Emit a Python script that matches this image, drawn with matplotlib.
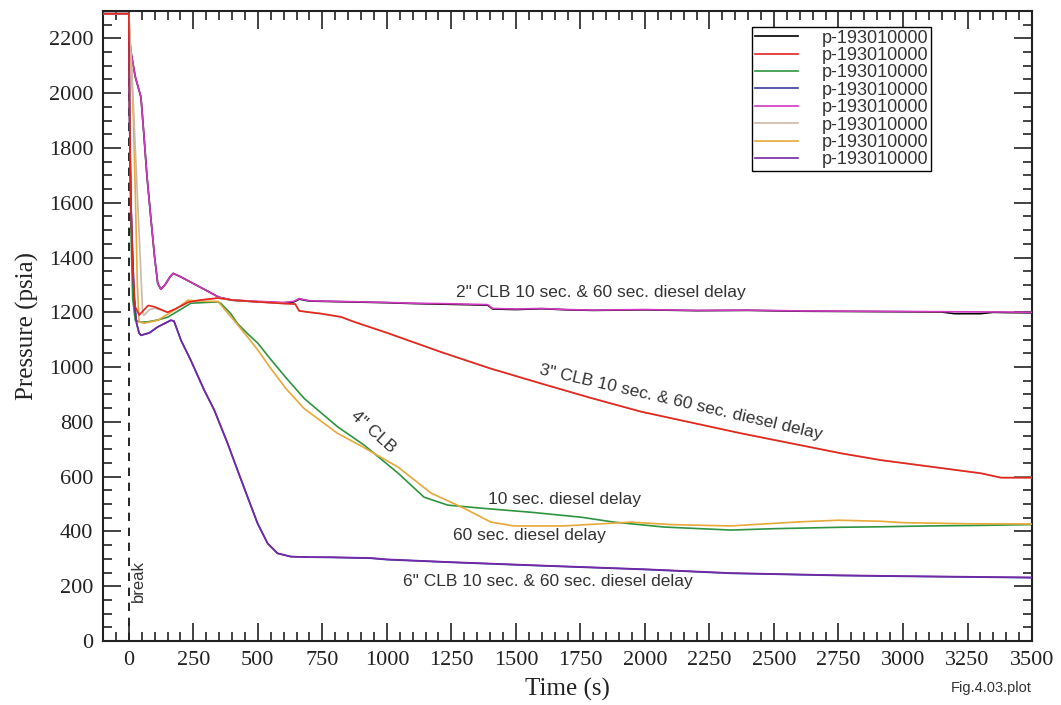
import matplotlib
matplotlib.use("Agg")
import matplotlib.pyplot as plt
from matplotlib.ticker import MultipleLocator

# 2" CLB, 10 s diesel delay (black) and 60 s (magenta)
t_2in_10 = [-100, 0, 2, 10, 25, 47, 58, 70, 85, 100, 112, 124, 140, 160, 172, 200, 250, 300, 349,
            400, 500, 600, 640, 660, 700, 800, 900, 1000, 1100, 1200, 1300, 1390, 1410, 1500, 1600,
            1700, 1800, 2000, 2200, 2400, 2600, 2800, 3000, 3150, 3200, 3300, 3350, 3400, 3500]
p_2in_10 = [2290, 2290, 2200, 2140, 2060, 1985, 1853, 1700, 1547, 1400, 1306, 1284, 1300, 1330, 1342,
            1330, 1305, 1280, 1255, 1244, 1238, 1234, 1238, 1248, 1241, 1239, 1237, 1235, 1232, 1230,
            1228, 1226, 1212, 1210, 1213, 1209, 1207, 1209, 1206, 1207, 1204, 1203, 1202, 1201, 1195,
            1195, 1200, 1199, 1198]
t_2in_60 = [-100, 0, 2, 10, 25, 47, 58, 70, 85, 100, 112, 124, 140, 160, 172, 200, 250, 300, 349,
            400, 500, 600, 640, 660, 700, 800, 900, 1000, 1100, 1200, 1300, 1390, 1410, 1500, 1600,
            1700, 1800, 2000, 2200, 2400, 2600, 2800, 3000, 3200, 3400, 3500]
p_2in_60 = [2290, 2290, 2200, 2140, 2060, 1985, 1853, 1700, 1547, 1400, 1306, 1284, 1300, 1330, 1342,
            1330, 1305, 1280, 1255, 1245, 1240, 1236, 1240, 1250, 1242, 1240, 1238, 1236, 1233, 1232,
            1230, 1228, 1214, 1212, 1214, 1210, 1208, 1210, 1207, 1208, 1205, 1204, 1203, 1202, 1201,
            1200]

# 3" CLB, 10 s (red) and 60 s (tan)
t_3in_10 = [-100, 0, 3, 8, 15, 25, 40, 55, 75, 100, 125, 150, 180, 230, 280, 345, 400, 500, 600,
            645, 660, 700, 744, 822, 873, 1000, 1209, 1400, 1597, 1791, 1985, 2372, 2760, 2915,
            3109, 3302, 3380, 3500]
p_3in_10 = [2290, 2290, 1950, 1600, 1350, 1220, 1190, 1205, 1225, 1220, 1210, 1200, 1212, 1237, 1245,
            1252, 1245, 1238, 1232, 1230, 1205, 1200, 1195, 1183, 1165, 1125, 1055, 995, 940, 887,
            837, 758, 685, 660, 636, 612, 596, 596]
t_3in_60 = [-100, 0, 5, 14, 25, 34, 45, 53, 58, 65, 80, 100, 125, 150, 180, 230, 280, 345, 400, 500,
            600, 645, 660, 700, 744, 822, 873, 1000, 1209, 1400, 1597, 1791, 1985, 2372, 2760, 2915,
            3109, 3302, 3380, 3500]
p_3in_60 = [2290, 2290, 2200, 2035, 1800, 1609, 1380, 1207, 1189, 1195, 1210, 1215, 1208, 1200, 1212,
            1236, 1245, 1252, 1245, 1238, 1232, 1230, 1206, 1201, 1196, 1184, 1166, 1126, 1056, 996,
            941, 888, 838, 759, 686, 661, 637, 613, 597, 597]

# 4" CLB, 10 s (green) and 60 s (orange)
t_4in_10 = [-100, 0, 3, 8, 15, 25, 47, 72, 112, 150, 200, 240, 300, 345, 357, 395, 421, 460, 499,
            550, 610, 680, 809, 912, 1043, 1144, 1236, 1364, 1558, 1752, 1880, 2074, 2333, 2500,
            2750, 2915, 3100, 3300, 3500]
p_4in_10 = [2290, 2290, 1900, 1500, 1250, 1170, 1164, 1165, 1172, 1182, 1210, 1233, 1236, 1238, 1232,
            1195, 1159, 1122, 1088, 1028, 960, 885, 782, 715, 613, 525, 496, 485, 470, 452, 434, 416,
            405, 410, 415, 417, 420, 422, 425]
t_4in_60 = [-100, 0, 3, 10, 18, 26, 33, 40, 60, 112, 175, 229, 300, 345, 407, 460, 500, 550, 610,
            680, 809, 900, 1043, 1171, 1298, 1403, 1492, 1686, 1946, 2100, 2333, 2600, 2750, 2915,
            3000, 3250, 3500]
p_4in_60 = [2290, 2290, 2230, 2100, 1900, 1600, 1300, 1165, 1160, 1171, 1207, 1244, 1240, 1240, 1171,
            1110, 1062, 995, 920, 848, 758, 712, 635, 540, 485, 434, 420, 420, 434, 425, 420, 435,
            441, 437, 432, 428, 427]

# 6" CLB, 10 s (blue) and 60 s (purple)
t_6in_10 = [-100, 0, 3, 8, 15, 21, 30, 40, 47, 80, 111, 140, 163, 175, 202, 240, 292, 331, 383, 421,
            460, 499, 538, 576, 628, 700, 783, 938, 1000, 1250, 1558, 2000, 2333, 2750, 3000, 3500]
p_6in_10 = [2290, 2290, 1900, 1609, 1400, 1244, 1160, 1124, 1116, 1125, 1146, 1160, 1171, 1168, 1098,
            1025, 916, 843, 721, 624, 526, 429, 356, 320, 308, 306, 305, 302, 297, 287, 276, 261, 247,
            239, 236, 231]
t_6in_60 = [-100, 0, 3, 8, 15, 21, 30, 40, 47, 80, 111, 140, 163, 175, 202, 240, 292, 331, 383, 421,
            460, 499, 538, 576, 628, 700, 783, 938, 1000, 1250, 1558, 2000, 2333, 2750, 3000, 3500]
p_6in_60 = [2290, 2290, 1900, 1609, 1400, 1244, 1160, 1124, 1116, 1125, 1146, 1160, 1171, 1168, 1098,
            1025, 916, 843, 721, 624, 526, 429, 356, 320, 308, 306, 306, 303, 298, 288, 277, 262, 248,
            240, 237, 232]

series = [
    (t_2in_10, p_2in_10, "#000000", 2),
    (t_3in_10, p_3in_10, "#e3261e", 7),
    (t_4in_10, p_4in_10, "#2e9440", 2),
    (t_6in_10, p_6in_10, "#3a3aa0", 2),
    (t_2in_60, p_2in_60, "#cf3ac0", 3),
    (t_3in_60, p_3in_60, "#cdb8a6", 6),
    (t_4in_60, p_4in_60, "#e6a838", 3),
    (t_6in_60, p_6in_60, "#7428a6", 3),
]
legend_label = "p-193010000"

sans = ["Liberation Sans", "DejaVu Sans"]
serif = ["Liberation Serif", "DejaVu Serif"]

fig = plt.figure(figsize=(10.61, 7.05), dpi=100)
ax = fig.add_axes([0.0971, 0.0908, 0.8756, 0.8936])

for t, p, color, z in series:
    ax.plot(t, p, color=color, lw=1.2, zorder=z, label=legend_label)

ax.axvline(0, color="black", lw=1.2, ls=(0, (5, 4)), zorder=1)

ax.set_xlim(-100, 3500)
ax.set_ylim(0, 2300)
ax.xaxis.set_major_locator(MultipleLocator(250))
ax.xaxis.set_minor_locator(MultipleLocator(50))
ax.yaxis.set_major_locator(MultipleLocator(200))
ax.yaxis.set_minor_locator(MultipleLocator(50))
ax.tick_params(which="both", direction="in", top=True, right=True, color="#222222", width=1.2)
ax.tick_params(which="major", length=13, labelsize=16, labelcolor="#222222", pad=7)
ax.tick_params(which="minor", length=6.5)
for lab in ax.get_xticklabels() + ax.get_yticklabels():
    lab.set_family(serif)
for sp in ax.spines.values():
    sp.set_linewidth(1.5)
    sp.set_color("#222222")

ax.set_xlabel("Time (s)", family=serif, fontsize=18, color="#222222", labelpad=6)
ax.set_ylabel("Pressure (psia)", family=serif, fontsize=18, color="#222222", labelpad=7)

leg = ax.legend(loc="upper left", bbox_to_anchor=(0.6986, 0.9746), borderaxespad=0,
                prop={"family": sans, "size": 13}, labelspacing=0.02, handlelength=2.4,
                handletextpad=1.3, borderpad=0.15, fancybox=False, framealpha=1, edgecolor="black")
leg.get_frame().set_linewidth(1.0)
for txt in leg.get_texts():
    txt.set_color("#333333")

tc = "#333333"
ax.text(1830, 1271, '2" CLB 10 sec. & 60 sec. diesel delay', family=sans, fontsize=12.5,
        color=tc, ha="center", va="center")
ax.text(2140, 873, '3" CLB 10 sec. & 60 sec. diesel delay', family=sans, fontsize=12.5,
        color=tc, ha="center", va="center", rotation=-13, rotation_mode="anchor")
ax.text(946, 762, '4" CLB', family=sans, fontsize=12.5, color=tc, ha="center", va="center",
        rotation=-42, rotation_mode="anchor")
ax.text(1690, 518, "10 sec. diesel delay", family=sans, fontsize=12.5, color=tc,
        ha="center", va="center")
ax.text(1554, 384, "60 sec. diesel delay", family=sans, fontsize=12.5, color=tc,
        ha="center", va="center")
ax.text(1623, 216, '6" CLB 10 sec. & 60 sec. diesel delay', family=sans, fontsize=12.5,
        color=tc, ha="center", va="center")
ax.text(39, 219, "break", family=sans, fontsize=12, color=tc, ha="center", va="center",
        rotation=90)

fig.text(0.9727, 0.024, "Fig.4.03.plot", family=sans, fontsize=10.5, color=tc, ha="right",
         va="center")

fig.savefig("out.png", dpi=100)
